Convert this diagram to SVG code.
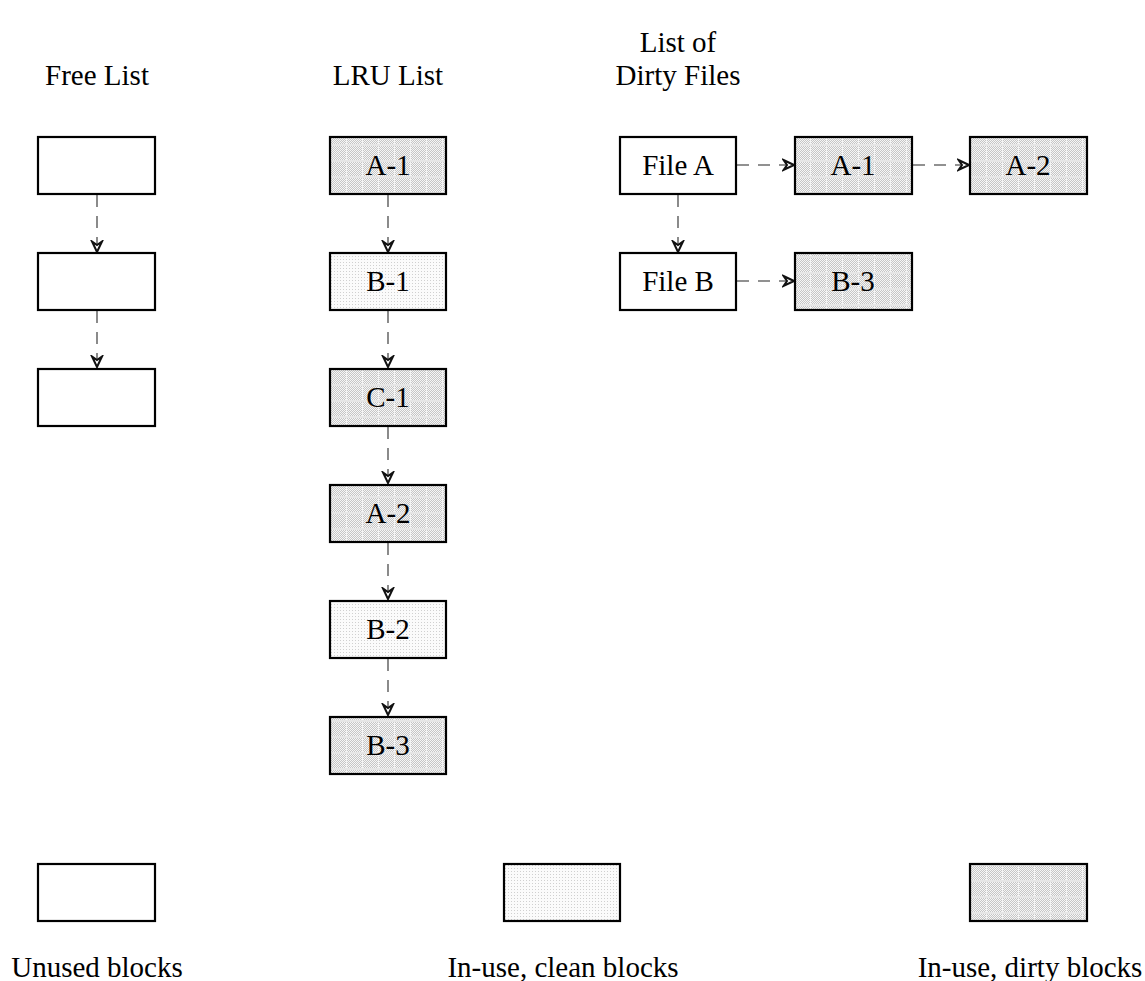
<svg xmlns="http://www.w3.org/2000/svg" width="1145" height="981" viewBox="0 0 1145 981">
<defs>
<pattern id="clean" width="3" height="3" patternUnits="userSpaceOnUse">
<rect width="3" height="3" fill="#fbfbfb"/>
<rect x="1" y="1" width="1" height="1" fill="#d0d0d0"/>
</pattern>
<pattern id="checker" width="2" height="2" patternUnits="userSpaceOnUse">
<rect width="2" height="2" fill="#f6f6f6"/>
<rect x="0" y="0" width="1" height="1" fill="#c6c6c6"/>
<rect x="1" y="1" width="1" height="1" fill="#c6c6c6"/>
</pattern>
<pattern id="grid" x="331" y="138" width="16" height="16" patternUnits="userSpaceOnUse">
<rect width="16" height="16" fill="url(#checker)"/>
<rect x="15" y="0" width="1" height="16" fill="#f4f4f4"/>
<rect x="0" y="6" width="16" height="2" fill="#e6e6e6"/>
</pattern>
<marker id="arr" viewBox="0 0 14 14" refX="12.5" refY="7" markerWidth="14" markerHeight="14" markerUnits="userSpaceOnUse" orient="auto">
<path d="M2,2 L12.5,7 L2,12 L5.5,7 Z" fill="#fff" stroke="#111" stroke-width="2" stroke-linejoin="miter"/>
</marker>
</defs>
<style>
.box{stroke:#000;stroke-width:2.2}
.unused{fill:#fff}
.clean{fill:url(#clean)}
.dirty{fill:url(#grid)}
.t{font-family:"Liberation Serif","Times New Roman",serif;font-size:29px;fill:#000;text-anchor:middle}
.c{fill:none;stroke:#6e6e6e;stroke-width:1.6;stroke-dasharray:12,9;marker-end:url(#arr)}
</style>
<rect width="1145" height="981" fill="#fff"/>
<g id="titles">
<text class="t" x="97" y="85">Free List</text>
<text class="t" x="388" y="85">LRU List</text>
<text class="t" x="678" y="52">List of</text>
<text class="t" x="678" y="85">Dirty Files</text>
</g>
<g id="connectors">
<path class="c" d="M97,195V252"/>
<path class="c" d="M97,311V367"/>
<path class="c" d="M388,195V252"/>
<path class="c" d="M388,311V367"/>
<path class="c" d="M388,427V483"/>
<path class="c" d="M388,543V599"/>
<path class="c" d="M388,659V715"/>
<path class="c" d="M678,195V252"/>
<path class="c" d="M737,165H794"/>
<path class="c" d="M913,165H969"/>
<path class="c" d="M737,281H794"/>
</g>
<g id="free1"><rect class="box unused" x="38" y="137" width="117" height="57"/></g>
<g id="free2"><rect class="box unused" x="38" y="253" width="117" height="57"/></g>
<g id="free3"><rect class="box unused" x="38" y="369" width="117" height="57"/></g>
<g id="lru-a1"><rect class="box dirty" x="330" y="137" width="116" height="57"/><text class="t" x="388" y="175">A-1</text></g>
<g id="lru-b1"><rect class="box clean" x="330" y="253" width="116" height="57"/><text class="t" x="388" y="291">B-1</text></g>
<g id="lru-c1"><rect class="box dirty" x="330" y="369" width="116" height="57"/><text class="t" x="388" y="407">C-1</text></g>
<g id="lru-a2"><rect class="box dirty" x="330" y="485" width="116" height="57"/><text class="t" x="388" y="523">A-2</text></g>
<g id="lru-b2"><rect class="box clean" x="330" y="601" width="116" height="57"/><text class="t" x="388" y="639">B-2</text></g>
<g id="lru-b3"><rect class="box dirty" x="330" y="717" width="116" height="57"/><text class="t" x="388" y="755">B-3</text></g>
<g id="file-a"><rect class="box unused" x="620" y="137" width="116" height="57"/><text class="t" x="678" y="175">File A</text></g>
<g id="file-a-1"><rect class="box dirty" x="795" y="137" width="117" height="57"/><text class="t" x="853" y="175">A-1</text></g>
<g id="file-a-2"><rect class="box dirty" x="970" y="137" width="117" height="57"/><text class="t" x="1028" y="175">A-2</text></g>
<g id="file-b"><rect class="box unused" x="620" y="253" width="116" height="57"/><text class="t" x="678" y="291">File B</text></g>
<g id="file-b-3"><rect class="box dirty" x="795" y="253" width="117" height="57"/><text class="t" x="853" y="291">B-3</text></g>
<g id="legend-unused"><rect class="box unused" x="38" y="864" width="117" height="57"/><text class="t" x="97" y="977">Unused blocks</text></g>
<g id="legend-clean"><rect class="box clean" x="504" y="864" width="116" height="57"/><text class="t" x="563" y="977">In-use, clean blocks</text></g>
<g id="legend-dirty"><rect class="box dirty" x="970" y="864" width="117" height="57"/><text class="t" x="1030" y="977">In-use, dirty blocks</text></g>
</svg>
